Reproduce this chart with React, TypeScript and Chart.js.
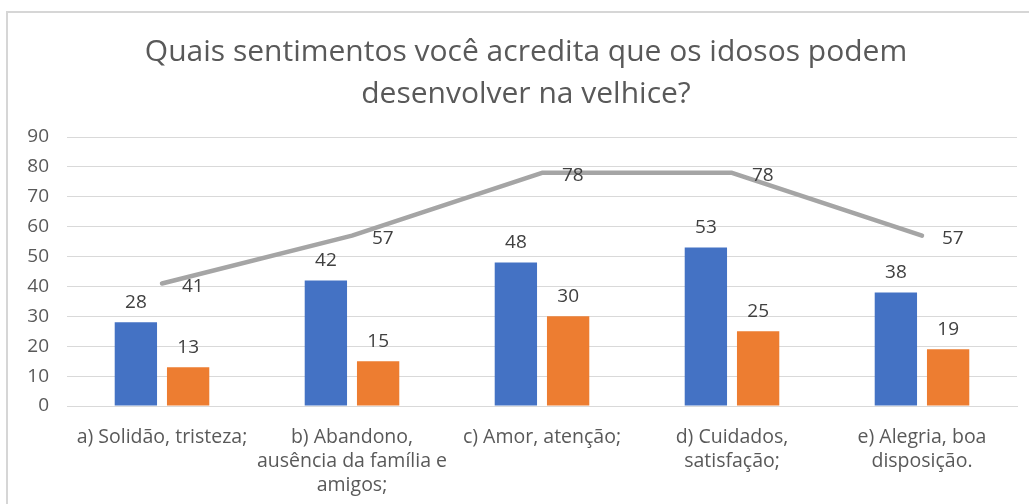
import React, { useEffect, useRef } from "react";
import { Chart, registerables } from "chart.js";

Chart.register(...registerables);

const titleLines = ["Quais sentimentos você acredita que os idosos podem", "desenvolver na velhice?"];
const categories = [
  ["a) Solidão, tristeza;"],
  ["b) Abandono,", "ausência da família e", "amigos;"],
  ["c) Amor, atenção;"],
  ["d) Cuidados,", "satisfação;"],
  ["e) Alegria, boa", "disposição."],
];
const seriesBlue = [28, 42, 48, 53, 38];
const seriesOrange = [13, 15, 30, 25, 19];
const seriesGrey = [41, 57, 78, 78, 57];
const yMin = 0;
const yMax = 90;
const yStep = 10;

const FONT = "'Open Sans', 'Noto Sans', sans-serif";

const labelPlugin = {
  id: "valueLabels",
  afterDatasetsDraw(chart: any) {
    const ctx = chart.ctx;
    ctx.save();
    ctx.font = `19px ${FONT}`;
    ctx.fillStyle = "#404040";
    chart.data.datasets.forEach((ds: any, i: number) => {
      const meta = chart.getDatasetMeta(i);
      meta.data.forEach((el: any, j: number) => {
        const v = ds.data[j];
        if (ds.type === "line") {
          ctx.textAlign = "left";
          ctx.textBaseline = "middle";
          ctx.fillText(String(v), el.x + 20, el.y + 3);
        } else {
          ctx.textAlign = "center";
          ctx.textBaseline = "middle";
          ctx.fillText(String(v), el.x, el.y - 20);
        }
      });
    });
    ctx.restore();
  },
};

export default function App() {
  const ref = useRef<HTMLCanvasElement | null>(null);
  useEffect(() => {
    if (!ref.current) return;
    const chart = new Chart(ref.current, {
      type: "bar",
      data: {
        labels: categories as any,
        datasets: [
          {
            type: "line" as any,
            label: "Série 3",
            data: seriesGrey,
            borderColor: "#A5A5A5",
            borderWidth: 4.5,
            pointRadius: 0,
            borderCapStyle: "round",
            borderJoinStyle: "round",
            tension: 0,
            order: 0,
          } as any,
          {
            label: "Série 1",
            data: seriesBlue,
            backgroundColor: "#4472C4",
            order: 1,
          },
          {
            label: "Série 2",
            data: seriesOrange,
            backgroundColor: "#ED7D31",
            order: 1,
          },
        ],
      },
      options: {
        animation: false,
        responsive: false,
        maintainAspectRatio: false,
        datasets: {
          bar: { categoryPercentage: 0.55, barPercentage: 0.81 },
        },
        layout: { padding: { left: 23, right: 0, top: 0, bottom: 0 } },
        plugins: {
          legend: { display: false },
          tooltip: { enabled: false },
          title: {
            display: true,
            text: titleLines,
            color: "#595959",
            font: { family: FONT, size: 30, weight: "normal" as any, lineHeight: 1.4 },
            padding: { top: 31, bottom: 22 },
          },
        },
        scales: {
          x: {
            grid: { display: false, drawTicks: false },
            border: { display: true, color: "#d9d9d9", width: 1 },
            ticks: {
              color: "#595959",
              font: { family: FONT, size: 19.5, lineHeight: 1.23 },
              padding: 19,
              maxRotation: 0,
              autoSkip: false,
            },
            afterFit(scale: any) {
              scale.height = 98;
            },
          },
          y: {
            min: yMin,
            max: yMax,
            grid: { color: "#d9d9d9", lineWidth: 1, drawTicks: false },
            border: { display: false },
            ticks: {
              stepSize: yStep,
              color: "#595959",
              font: { family: FONT, size: 19 },
              padding: 18,
            },
            afterFit(scale: any) {
              scale.width = 44;
            },
          },
          yRight: {
            position: "right",
            display: true,
            grid: { display: false, drawTicks: false },
            border: { display: false },
            ticks: { display: false },
            afterFit(scale: any) {
              scale.width = 12;
            },
          },
        },
      },
      plugins: [labelPlugin],
    });
    return () => chart.destroy();
  }, []);
  return (
    <div style={{ position: "fixed", left: 0, top: 0, width: 1029, height: 504, background: "#fff" }}>
      <canvas ref={ref} width={1029} height={504} style={{ position: "absolute", left: 0, top: 0 }} />
      <div
        style={{
          position: "absolute",
          left: 6,
          top: 11,
          width: 1040,
          height: 520,
          borderLeft: "2px solid #d6d6d6",
          borderTop: "2px solid #d6d6d6",
          pointerEvents: "none",
        }}
      />
    </div>
  );
}
